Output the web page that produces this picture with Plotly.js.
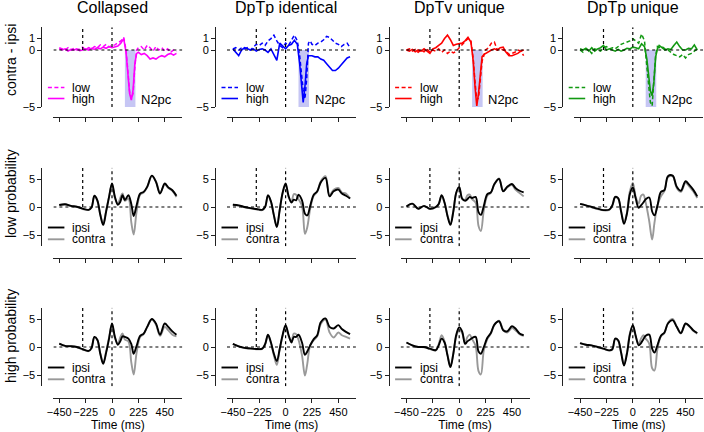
<!DOCTYPE html>
<html><head><meta charset="utf-8">
<script src="https://cdn.plot.ly/plotly-3.0.1.min.js"></script>
<style>html,body{margin:0;padding:0;background:#fff}#chart{width:704px;height:432px}</style>
</head><body><div id="chart"></div>
<script>
// ---------- data ----------
const columnTitles = ["Collapsed", "DpTp identical", "DpTv unique", "DpTp unique"];
const rowTitles = ["contra - ipsi", "low probability", "high probability"];
const diffColors = ["#FF00FF", "#0000FF", "#FF0000", "#119911"];
const xTickVals = [-450, -225, 0, 225, 450];

// time points (ms) for the contra - ipsi difference waves
const timeDiff = [-450,-425,-400,-375,-350,-325,-300,-275,-250,-225,-200,-175,-150,-125,-100,-75,-50,-25,0,25,50,75,100,
  120,135,150,165,180,195,210,225,250,275,300,325,350,375,400,425,450,475,500,525,550];

const collapsedLow  = [0.2,0.1,0.0,0.2,0.0,0.15,0.0,0.1,0.25,0.0,0.2,0.1,0.3,0.2,0.45,0.3,0.5,0.25,0.4,0.45,0.6,0.8,1.1,
  0.0,-1.8,-3.6,-4.3,-3.8,-1.5,0.0,0.2,0.3,0.0,0.4,0.2,-0.1,0.3,0.0,0.2,-0.1,0.1,-0.2,0.0,-0.15];
const collapsedHigh = [0.1,0.0,0.1,-0.1,0.05,0.0,0.1,-0.05,0.0,0.1,0.0,0.15,0.05,0.2,0.1,0.25,0.15,0.3,0.2,0.3,0.35,0.6,1.0,
  -0.2,-2.2,-3.8,-4.4,-3.5,-1.2,-0.3,-0.2,-0.4,-0.3,-0.5,-0.8,-0.7,-0.8,-0.6,-0.5,-0.6,-0.4,-0.3,-0.45,-0.3];
const identicalLow  = [0.1,0.2,0.0,0.2,0.1,0.2,0.0,0.3,0.5,0.4,0.6,0.4,0.8,1.0,1.3,0.8,0.4,0.2,0.6,0.4,0.9,1.3,0.8,
  -0.5,-2.0,-3.5,-4.3,-2.5,0.6,0.8,0.5,0.4,0.6,0.7,0.9,1.2,1.1,0.8,0.6,0.5,0.3,0.5,0.6,0.2];
const identicalHigh = [0.1,-0.2,-0.5,0.0,0.2,0.1,0.0,0.1,-0.1,0.05,0.1,0.0,-0.2,0.1,-0.4,-0.9,0.6,0.3,0.1,0.4,0.5,0.85,0.5,
  -1.2,-3.2,-4.6,-3.2,-1.2,-0.5,-0.5,-0.5,-0.6,-0.6,-0.8,-0.9,-1.2,-1.5,-1.8,-1.8,-1.6,-1.3,-1.0,-0.7,-0.6];
const tvUniqueLow   = [0.0,0.1,-0.1,0.05,-0.2,0.0,-0.15,0.1,-0.2,0.0,-0.1,0.1,-0.2,0.0,-0.3,-0.1,-0.25,-0.1,0.2,0.5,0.8,1.0,0.8,
  -0.8,-2.8,-4.4,-4.2,-2.5,-1.0,-0.5,0.0,0.2,0.6,0.7,0.0,0.1,0.0,-0.1,-0.4,-0.3,-0.2,0.0,-0.1,-0.5];
const tvUniqueHigh  = [0.0,-0.1,0.05,-0.15,0.0,-0.1,0.1,-0.1,-0.3,0.1,0.2,0.4,0.6,1.0,1.3,0.9,0.4,0.5,0.55,0.6,0.8,1.1,0.7,
  -1.0,-3.2,-4.9,-3.8,-1.8,-0.6,-0.4,-0.3,-0.2,0.0,0.1,0.0,0.2,0.25,-0.2,-0.5,-0.5,-0.4,-0.3,-0.1,0.0];
const tpUniqueLow   = [0.0,-0.2,0.1,0.0,-0.3,0.1,0.0,-0.1,0.2,0.3,0.1,0.2,0.1,0.3,0.5,0.6,0.7,0.8,1.0,0.8,0.6,1.4,0.8,
  -1.5,-3.2,-4.6,-4.9,-2.5,-0.5,0.3,0.2,0.3,0.1,0.0,-0.2,-0.4,-0.5,-0.6,-0.4,-0.7,-0.4,-0.3,-0.1,0.1];
const tpUniqueHigh  = [0.1,0.0,0.15,-0.1,0.2,-0.1,0.1,0.2,0.4,0.0,0.1,0.0,-0.1,0.05,-0.1,0.0,0.15,0.1,0.25,0.2,0.1,0.55,0.3,
  -0.8,-2.5,-3.6,-4.0,-2.8,-0.6,0.1,0.4,0.2,0.0,0.1,0.05,0.4,0.7,0.3,0.0,0.0,0.15,0.1,0.45,0.0];

// time points (ms) for the ipsi / contra waves
const timeErp = [-450,-400,-350,-300,-250,-200,-175,-150,-125,-100,-75,-50,-25,0,25,50,70,90,110,140,165,185,210,240,270,300,340,375,410,450,480,515,550];

const lowIpsiCollapsed    = [0.35,0.5,0.2,0.05,-0.3,-0.5,-0.1,2.0,1.2,-1.4,-3.2,-0.8,1.8,4.2,1.8,0.4,0.9,2.1,1.25,2.1,0.5,-1.6,0.3,2.4,2.7,3.6,5.6,4.5,2.4,4.2,3.5,3.0,2.0];
const lowContraCollapsed  = [0.35,0.45,0.2,0.0,-0.35,-0.55,-0.1,1.9,1.1,-1.3,-3.0,-0.6,1.9,4.0,1.6,0.6,1.6,2.4,1.1,1.5,-2.8,-4.9,-0.8,2.2,2.6,3.5,5.5,4.6,2.5,4.0,3.4,2.9,1.8];
const lowIpsiIdentical    = [0.4,0.3,0.0,-0.2,-0.35,-0.5,0.0,2.1,1.0,-1.5,-3.6,-0.5,2.6,4.2,2.0,0.8,1.3,1.2,2.2,1.2,-1.2,-1.5,0.2,2.2,2.8,4.4,5.2,1.9,2.8,3.1,2.4,2.0,1.5];
const lowContraIdentical  = [0.4,0.25,-0.05,-0.25,-0.4,-0.55,0.0,2.0,0.9,-1.4,-3.4,-0.4,2.5,4.0,1.8,1.0,2.3,2.2,1.4,0.2,-4.8,-3.6,-0.3,2.0,2.7,4.6,5.5,2.1,3.1,3.4,2.6,2.4,1.5];
const lowIpsiTvUnique     = [0.1,0.6,-0.3,0.2,-0.3,0.0,0.55,2.1,0.8,-1.6,-3.2,-0.8,2.6,3.6,1.5,1.1,1.4,1.8,1.6,1.8,-0.9,-1.4,0.2,2.3,2.6,4.1,5.0,2.8,3.6,4.1,3.4,2.9,2.6];
const lowContraTvUnique   = [0.1,0.55,-0.35,0.15,-0.35,-0.05,0.5,2.0,0.7,-1.5,-3.0,-0.7,2.5,3.5,1.4,1.3,2.1,2.2,1.4,0.8,-3.4,-4.3,-0.6,2.0,2.5,4.0,5.1,2.9,3.5,3.9,3.1,2.5,1.9];
const lowIpsiTpUnique     = [0.55,0.3,0.0,-0.3,-0.55,-0.45,0.3,1.8,1.6,-0.8,-3.0,-1.2,2.3,3.5,1.5,-0.15,0.3,0.8,1.4,1.7,-0.8,-1.5,0.2,2.7,3.0,5.5,5.6,3.6,2.9,4.6,4.0,3.1,1.9];
const lowContraTpUnique   = [0.55,0.3,-0.05,-0.35,-0.6,-0.5,0.2,1.7,1.5,-0.7,-2.8,-1.0,2.8,4.3,1.8,0.6,2.0,2.2,0.8,-2.5,-5.8,-2.8,0.3,1.9,2.9,5.3,5.5,3.4,2.7,4.3,3.7,2.8,1.6];

const highIpsiCollapsed   = [0.6,0.2,0.15,0.0,-0.4,-0.7,-0.2,1.8,1.3,-1.2,-3.0,-1.0,1.5,4.2,1.8,0.4,1.0,1.9,1.8,1.5,0.5,-1.2,0.2,2.0,2.4,3.6,5.0,4.2,2.2,4.2,3.6,2.8,2.2];
const highContraCollapsed = [0.6,0.2,0.1,-0.05,-0.45,-0.75,-0.25,1.7,1.2,-1.1,-2.8,-0.8,1.7,4.0,1.6,0.6,1.7,2.4,1.3,1.0,-2.8,-4.9,-1.0,1.8,2.3,3.5,4.9,4.0,2.0,3.6,3.0,2.2,1.9];
const highIpsiIdentical   = [0.55,0.1,-0.15,-0.25,-0.35,-0.3,0.5,2.2,0.8,-1.2,-2.5,-0.3,2.2,3.9,2.2,0.8,1.8,1.8,2.2,0.8,-1.4,-0.8,0.3,1.4,2.1,4.4,5.1,3.6,3.3,3.9,3.2,2.7,2.3];
const highContraIdentical = [0.5,0.1,-0.2,-0.3,-0.4,-0.35,0.4,2.1,0.7,-1.5,-3.2,-0.4,2.0,3.7,2.0,1.0,2.4,2.3,1.3,-1.5,-5.1,-3.0,0.3,1.2,1.9,4.1,4.9,2.6,1.7,2.6,2.1,1.8,1.5];
const highIpsiTvUnique    = [0.8,0.3,0.0,0.0,-0.3,-0.55,0.3,1.5,0.8,-1.5,-3.6,-1.2,2.2,3.5,2.8,0.55,1.0,1.3,1.6,1.8,-0.8,-1.2,0.0,1.65,2.5,4.0,4.6,3.0,2.8,3.7,3.3,2.4,2.1];
const highContraTvUnique  = [0.8,0.3,0.0,-0.05,-0.35,-0.6,0.5,2.1,1.0,-1.4,-3.4,-1.1,1.9,3.1,2.5,0.8,1.8,2.2,1.4,0.2,-4.3,-4.9,-0.6,1.4,2.4,3.9,4.7,3.1,2.6,3.4,3.0,2.3,2.0];
const highIpsiTpUnique    = [0.7,0.4,0.3,0.0,-0.3,-0.6,-0.4,1.5,1.2,-1.0,-3.3,-1.2,2.2,3.9,2.0,0.3,0.7,1.4,2.0,2.2,-0.3,-1.0,0.3,2.0,2.6,4.2,4.8,3.6,2.5,4.2,3.8,3.0,2.5];
const highContraTpUnique  = [0.7,0.4,0.25,-0.05,-0.35,-0.65,-0.45,1.4,1.1,-0.9,-3.1,-1.0,2.4,3.8,1.8,0.6,1.5,2.1,1.5,0.6,-3.8,-4.2,-0.4,1.9,2.5,4.3,5.0,3.6,2.4,4.1,3.7,2.9,2.4];

const diffPanels = [[collapsedLow, collapsedHigh],[identicalLow, identicalHigh],[tvUniqueLow, tvUniqueHigh],[tpUniqueLow, tpUniqueHigh]];
const lowProbPanels = [[lowIpsiCollapsed, lowContraCollapsed],[lowIpsiIdentical, lowContraIdentical],[lowIpsiTvUnique, lowContraTvUnique],[lowIpsiTpUnique, lowContraTpUnique]];
const highProbPanels = [[highIpsiCollapsed, highContraCollapsed],[highIpsiIdentical, highContraIdentical],[highIpsiTvUnique, highContraTvUnique],[highIpsiTpUnique, highContraTpUnique]];
const n2pcWindow = [110, 200];

// ---------- layout geometry ----------
const W = 704, H = 432;
const FONT = 'Liberation Sans, Arial, Helvetica, sans-serif';
const colZeroPx = [112, 285.6, 459.2, 632.8];
const pxPerMs = 0.1172;
const xRange = [-500, 600];
const rowDomPx = [[27.2, 107], [167.8, 246.2], [307.8, 386.2]];
const rowRanges = [[-5, 2], [-7, 7], [-7, 7]];
const rowXAxisPx = [117, 258, 398];
const rowTickVals = [[-5, 0, 1], [-5, 0, 5], [-5, 0, 5]];
const rowTitleCenterPx = [60, 194, 336];
const legendOffsetPx = [[19.5, 8.5], [18.7, 6.9], [18.7, 6.9]];

const px = p => p / W, py = p => 1 - p / H;

const traces = [], shapes = [], annotations = [];
const layout = {
  width: W, height: H, margin: {l: 0, r: 0, t: 0, b: 0},
  paper_bgcolor: '#ffffff', plot_bgcolor: 'rgba(0,0,0,0)', showlegend: false,
  font: {family: FONT, color: '#000'}
};
const axisColor = '#222';
const refDash = '3px,3px';
const tickFont = {size: 11, color: '#000', family: FONT};
const legFont = {size: 12, color: '#000', family: FONT};

for (let r = 0; r < 3; r++) {
  for (let c = 0; c < 4; c++) {
    const n = r * 4 + c + 1;
    const sfx = n === 1 ? '' : String(n);
    const xid = 'x' + sfx, yid = 'y' + sfx;
    const c0 = colZeroPx[c];
    const x0 = c0 + xRange[0] * pxPerMs, x1 = c0 + xRange[1] * pxPerMs;
    const yAxisPx = x0 - 12;
    const [yt, yb] = rowDomPx[r];
    layout['xaxis' + sfx] = {
      domain: [px(x0), px(x1)], range: xRange, anchor: 'free', position: py(rowXAxisPx[r]),
      showline: true, linecolor: axisColor, linewidth: 1, ticks: 'outside', ticklen: 4, tickcolor: axisColor, tickwidth: 1,
      tickmode: 'array', tickvals: xTickVals, showticklabels: r === 2, showgrid: false, zeroline: false,
      tickfont: tickFont, tickangle: 0,
      title: r === 2 ? {text: 'Time (ms)', font: {size: 12, color: '#000', family: FONT}, standoff: 2} : {text: ''},
      fixedrange: true
    };
    layout['yaxis' + sfx] = {
      domain: [py(yb), py(yt)], range: rowRanges[r], anchor: 'free', position: px(yAxisPx),
      showline: true, linecolor: axisColor, linewidth: 1, ticks: 'outside', ticklen: 4, tickcolor: axisColor, tickwidth: 1,
      tickmode: 'array', tickvals: rowTickVals[r], showgrid: false, zeroline: false,
      tickfont: tickFont, tickangle: 0, fixedrange: true
    };
    const yTop = rowRanges[r][1], yBot = rowRanges[r][0];
    // reference lines
    shapes.push({type: 'line', xref: xid, yref: yid, x0: xRange[0], x1: xRange[1], y0: 0, y1: 0, line: {color: '#000', width: 1.2, dash: refDash}});
    shapes.push({type: 'line', xref: xid, yref: yid, x0: -250, x1: -250, y0: 0, y1: yTop, line: {color: '#000', width: 1.2, dash: refDash}});
    shapes.push({type: 'line', xref: xid, yref: yid, x0: 0, x1: 0, y0: yBot, y1: yTop, line: {color: '#000', width: 1.2, dash: refDash}});

    const legY1 = yb - legendOffsetPx[r][0], legY2 = yb - legendOffsetPx[r][1];
    const lx0 = yAxisPx + 6.5, lx1 = yAxisPx + 23, ltx = yAxisPx + 29;

    if (r === 0) {
      const col = diffColors[c];
      shapes.push({type: 'rect', xref: xid, yref: yid, x0: n2pcWindow[0], x1: n2pcWindow[1], y0: -5, y1: 0,
        fillcolor: '#c6c6f4', line: {width: 0}, layer: 'below'});
      const [lowS, highS] = diffPanels[c];
      traces.push({type: 'scatter', mode: 'lines', x: timeDiff, y: lowS, xaxis: xid, yaxis: yid, name: 'low',
        line: {color: col, width: 1.5, dash: '4px,2.5px'}, hoverinfo: 'skip'});
      traces.push({type: 'scatter', mode: 'lines', x: timeDiff, y: highS, xaxis: xid, yaxis: yid, name: 'high',
        line: {color: col, width: 1.6}, hoverinfo: 'skip'});
      annotations.push({xref: xid, yref: yid, x: 232, y: -4.3, text: 'N2pc', showarrow: false, xanchor: 'left', yanchor: 'middle',
        font: {size: 13, color: '#000', family: FONT}});
      shapes.push({type: 'line', xref: 'paper', yref: 'paper', x0: px(lx0), x1: px(lx1), y0: py(legY1), y1: py(legY1), line: {color: col, width: 1.5, dash: '4px,2.5px'}});
      shapes.push({type: 'line', xref: 'paper', yref: 'paper', x0: px(lx0), x1: px(lx1), y0: py(legY2), y1: py(legY2), line: {color: col, width: 1.6}});
      annotations.push({xref: 'paper', yref: 'paper', x: px(ltx), y: py(legY1), text: 'low', showarrow: false, xanchor: 'left', yanchor: 'middle', font: legFont});
      annotations.push({xref: 'paper', yref: 'paper', x: px(ltx), y: py(legY2), text: 'high', showarrow: false, xanchor: 'left', yanchor: 'middle', font: legFont});
    } else {
      const [ipsiS, contraS] = (r === 1 ? lowProbPanels : highProbPanels)[c];
      traces.push({type: 'scatter', mode: 'lines', x: timeErp, y: contraS, xaxis: xid, yaxis: yid, name: 'contra',
        line: {color: '#999999', width: 1.9, shape: 'spline', smoothing: 1}, hoverinfo: 'skip'});
      traces.push({type: 'scatter', mode: 'lines', x: timeErp, y: ipsiS, xaxis: xid, yaxis: yid, name: 'ipsi',
        line: {color: '#000000', width: 1.9, shape: 'spline', smoothing: 1}, hoverinfo: 'skip'});
      shapes.push({type: 'line', xref: 'paper', yref: 'paper', x0: px(lx0), x1: px(lx1), y0: py(legY1), y1: py(legY1), line: {color: '#000', width: 1.9}});
      shapes.push({type: 'line', xref: 'paper', yref: 'paper', x0: px(lx0), x1: px(lx1), y0: py(legY2), y1: py(legY2), line: {color: '#999999', width: 1.9}});
      annotations.push({xref: 'paper', yref: 'paper', x: px(ltx), y: py(legY1), text: 'ipsi', showarrow: false, xanchor: 'left', yanchor: 'middle', font: legFont});
      annotations.push({xref: 'paper', yref: 'paper', x: px(ltx), y: py(legY2), text: 'contra', showarrow: false, xanchor: 'left', yanchor: 'middle', font: legFont});
    }
    if (r === 0) {
      annotations.push({xref: xid, yref: 'paper', x: 0, y: py(8), text: columnTitles[c], showarrow: false, xanchor: 'center', yanchor: 'middle',
        font: {size: 16, color: '#000', family: FONT}});
    }
  }
  annotations.push({xref: 'paper', yref: 'paper', x: px(11), y: py(rowTitleCenterPx[r]), text: rowTitles[r], textangle: -90, showarrow: false,
    xanchor: 'center', yanchor: 'middle', font: {size: 14, color: '#000', family: FONT}});
}
layout.shapes = shapes;
layout.annotations = annotations;
Plotly.newPlot('chart', traces, layout, {displayModeBar: false, staticPlot: true});
</script>
</body></html>
